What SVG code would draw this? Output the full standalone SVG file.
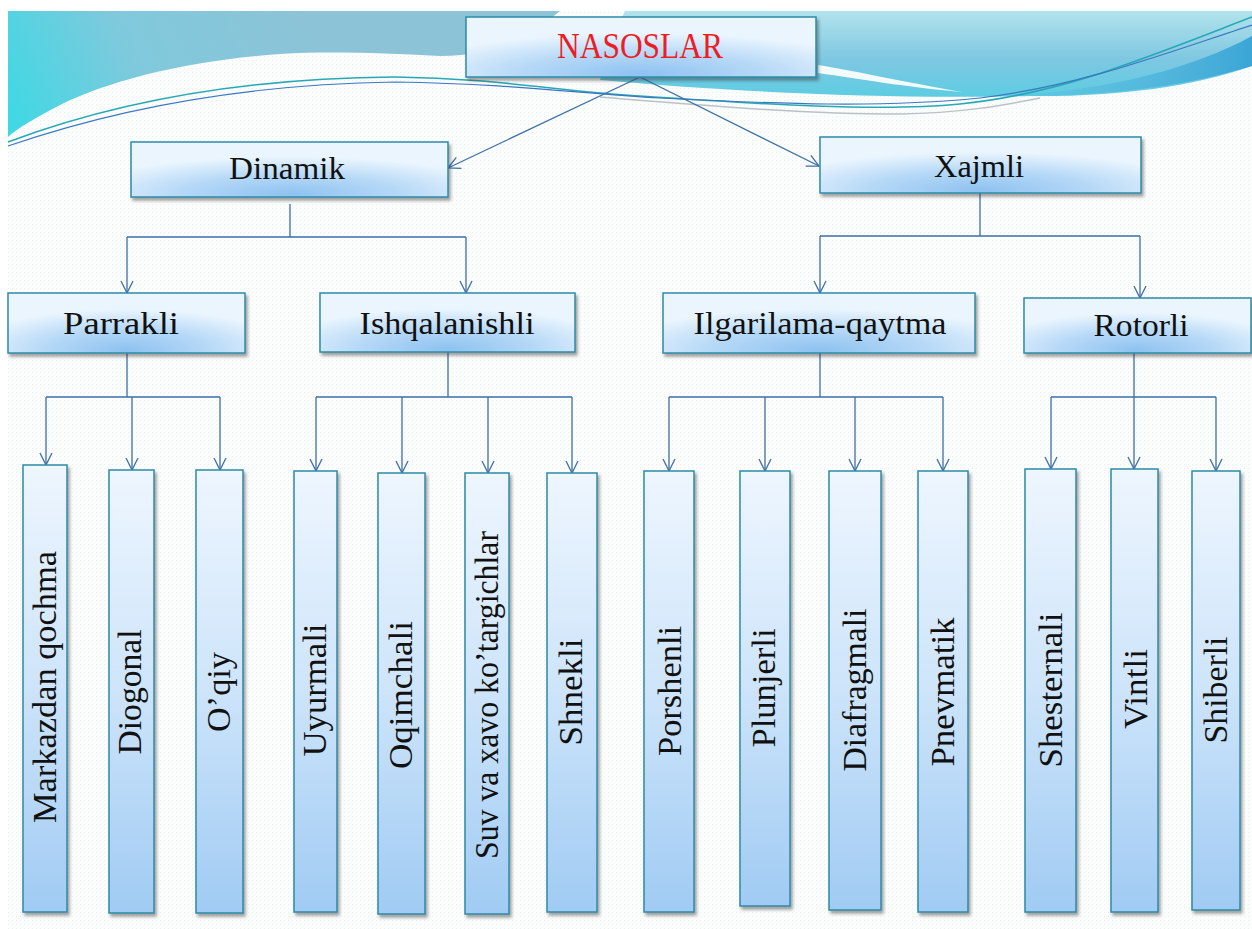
<svg xmlns="http://www.w3.org/2000/svg" width="1252" height="929" viewBox="0 0 1252 929">
<defs>
  <style>
    .hb { fill: url(#gH); stroke: #2e8aa6; stroke-width: 1.5; filter: url(#sh); }
    .vb { fill: url(#gV); stroke: #2e8aa6; stroke-width: 1.5; filter: url(#sh); }
    .t { font-family: "Liberation Serif", "Times New Roman", serif; fill: #111; text-anchor: middle; }
    .h1 { font-size: 32px; }
    .h2 { font-size: 32px; }
    .vt { font-size: 33px; }
    .top { font-size: 35px; fill: #ee1c25; }
    .c { fill: none; stroke: #3d6fa6; stroke-width: 1.3; }
    .ca { fill: none; stroke: #3d6fa6; stroke-width: 1.3; marker-end: url(#ah); }
  </style>
  <marker id="ah" viewBox="0 0 14 14" refX="13" refY="7" markerWidth="14" markerHeight="14" markerUnits="userSpaceOnUse" orient="auto">
    <path d="M1,1 L13,7 L1,13" fill="none" stroke="#3d6fa6" stroke-width="1.3"/>
  </marker>
  <filter id="sh" x="-10%" y="-10%" width="130%" height="130%">
    <feDropShadow dx="2" dy="3" stdDeviation="1.6" flood-color="#333" flood-opacity="0.45"/>
  </filter>
  <radialGradient id="gH" cx="0.5" cy="0.95" r="0.68">
    <stop offset="0" stop-color="#8ec2f1"/>
    <stop offset="0.5" stop-color="#b5d8f7"/>
    <stop offset="1" stop-color="#eaf5fe"/>
  </radialGradient>
  <linearGradient id="gV" x1="0" y1="0" x2="0" y2="1">
    <stop offset="0" stop-color="#eef6fe"/>
    <stop offset="0.5" stop-color="#cde4fa"/>
    <stop offset="1" stop-color="#a0cbf3"/>
  </linearGradient>
  <linearGradient id="gLeft" x1="300" y1="11" x2="20" y2="140" gradientUnits="userSpaceOnUse">
    <stop offset="0" stop-color="#8cc3d7"/>
    <stop offset="0.55" stop-color="#80c9dc"/>
    <stop offset="1" stop-color="#3fd8e4"/>
  </linearGradient>
  <linearGradient id="gRight" x1="0" y1="11" x2="0" y2="98" gradientUnits="userSpaceOnUse">
    <stop offset="0" stop-color="#b2e3ec"/>
    <stop offset="0.55" stop-color="#7fc7e2"/>
    <stop offset="1" stop-color="#5ccde2"/>
  </linearGradient>
  <linearGradient id="gDark" x1="1000" y1="0" x2="1252" y2="0" gradientUnits="userSpaceOnUse">
    <stop offset="0" stop-color="#5bbde0" stop-opacity="0.2"/>
    <stop offset="1" stop-color="#3aa6d6"/>
  </linearGradient>
  <pattern id="dots" width="4" height="4" patternUnits="userSpaceOnUse">
    <rect width="4" height="4" fill="#fbfcfc"/>
    <rect width="1" height="1" fill="#eceff0"/>
  </pattern>
</defs>

<!-- background -->
<rect x="0" y="0" width="1252" height="929" fill="#ffffff"/>
<rect x="8" y="11" width="1244" height="918" fill="url(#dots)"/>
<path d="M8,11 L560,11 C530,35 500,56 440,56 C380,53 330,51 280,54 C190,60 110,80 60,105 C35,118 18,128 8,137 Z" fill="url(#gLeft)"/>
<path d="M625,11 L1252,11 L1252,66 C1190,88 1110,97 1030,96 C900,99 760,94 600,80 C610,50 615,30 625,11 Z" fill="url(#gRight)"/>
<path d="M1000,96 C1100,92 1190,70 1252,36 L1252,66 C1180,88 1100,97 1000,96 Z" fill="url(#gDark)"/>
<path d="M818,65 C860,72 905,82 962,92 C905,87 860,79 818,73 Z" fill="#f4fbfc"/>
<path d="M8,142 C120,100 250,78 395,77 C500,78 560,92 640,96 C760,104 880,112 960,104 C1060,94 1140,60 1252,17" fill="none" stroke="#27a9b5" stroke-width="1.6"/>
<path d="M8,146 C130,104 260,84 395,82 C520,84 580,94 660,98 C780,104 880,108 980,98 C1080,86 1160,55 1252,25" fill="none" stroke="#3b78c2" stroke-width="1.2"/>
<path d="M600,97 C700,105 800,114 900,114 C960,113 1000,106 1040,98" fill="none" stroke="#b9c2c6" stroke-width="1.5"/>

<!-- connectors -->
<g id="connectors">
  <path class="ca" d="M640,77 L448,168"/>
  <path class="ca" d="M640,77 L819,166"/>
  <path class="c" d="M290,204 V237 M127,237 H466"/>
  <path class="ca" d="M127,237 V293"/>
  <path class="ca" d="M466,237 V293"/>
  <path class="c" d="M980,193 V236 M820,236 H1140"/>
  <path class="ca" d="M820,236 V293"/>
  <path class="ca" d="M1140,236 V298"/>
  <path class="c" d="M127,353 V397 M46,397 H220"/>
  <path class="ca" d="M46,397 V465"/>
  <path class="ca" d="M132,397 V470"/>
  <path class="ca" d="M220,397 V470"/>
  <path class="c" d="M448,352 V397 M316,397 H572"/>
  <path class="ca" d="M316,397 V471"/>
  <path class="ca" d="M402,397 V473"/>
  <path class="ca" d="M488,397 V473"/>
  <path class="ca" d="M572,397 V473"/>
  <path class="c" d="M820,353 V397 M669,397 H943"/>
  <path class="ca" d="M669,397 V471"/>
  <path class="ca" d="M765,397 V471"/>
  <path class="ca" d="M855,397 V471"/>
  <path class="ca" d="M943,397 V471"/>
  <path class="c" d="M1134,353 V397 M1051,397 H1216"/>
  <path class="ca" d="M1051,397 V469"/>
  <path class="ca" d="M1134,397 V469"/>
  <path class="ca" d="M1216,397 V471"/>
</g>

<!-- nodes -->
<g id="n-nasoslar"><rect class="hb" x="466" y="17" width="350" height="60"/><text class="t top" x="640" y="58" textLength="166" lengthAdjust="spacingAndGlyphs">NASOSLAR</text></g>
<g id="n-dinamik"><rect class="hb" x="131" y="142" width="317" height="55"/><text class="t h1" x="287" y="179" textLength="116" lengthAdjust="spacingAndGlyphs">Dinamik</text></g>
<g id="n-xajmli"><rect class="hb" x="820" y="137" width="321" height="56"/><text class="t h1" x="979" y="177" textLength="90" lengthAdjust="spacingAndGlyphs">Xajmli</text></g>
<g id="n-parrakli"><rect class="hb" x="8" y="293" width="237" height="60"/><text class="t h2" x="121" y="334" textLength="116" lengthAdjust="spacingAndGlyphs">Parrakli</text></g>
<g id="n-ishqalanishli"><rect class="hb" x="320" y="293" width="255" height="59"/><text class="t h2" x="447" y="334" textLength="175" lengthAdjust="spacingAndGlyphs">Ishqalanishli</text></g>
<g id="n-ilgarilama"><rect class="hb" x="663" y="293" width="312" height="60"/><text class="t h2" x="820" y="334" textLength="253" lengthAdjust="spacingAndGlyphs">Ilgarilama-qaytma</text></g>
<g id="n-rotorli"><rect class="hb" x="1024" y="298" width="227" height="55"/><text class="t h2" x="1141" y="336" textLength="95" lengthAdjust="spacingAndGlyphs">Rotorli</text></g>

<g id="n-markazdan"><rect class="vb" x="23" y="465" width="44" height="447"/><text class="t vt" transform="translate(56,687) rotate(-90)" textLength="272" lengthAdjust="spacingAndGlyphs">Markazdan qochma</text></g>
<g id="n-diogonal"><rect class="vb" x="109" y="470" width="45" height="443"/><text class="t vt" transform="translate(141,692) rotate(-90)" textLength="125" lengthAdjust="spacingAndGlyphs">Diogonal</text></g>
<g id="n-oqiy"><rect class="vb" x="196" y="470" width="47" height="443"/><text class="t vt" transform="translate(230,692) rotate(-90)" textLength="80" lengthAdjust="spacingAndGlyphs">O’qiy</text></g>
<g id="n-uyurmali"><rect class="vb" x="294" y="471" width="43" height="441"/><text class="t vt" transform="translate(326,690) rotate(-90)" textLength="133" lengthAdjust="spacingAndGlyphs">Uyurmali</text></g>
<g id="n-oqimchali"><rect class="vb" x="378" y="473" width="47" height="441"/><text class="t vt" transform="translate(412,695) rotate(-90)" textLength="148" lengthAdjust="spacingAndGlyphs">Oqimchali</text></g>
<g id="n-suv"><rect class="vb" x="465" y="473" width="44" height="441"/><text class="t vt" transform="translate(498,695) rotate(-90)" textLength="328" lengthAdjust="spacingAndGlyphs">Suv va xavo ko’targichlar</text></g>
<g id="n-shnekli"><rect class="vb" x="547" y="473" width="50" height="439"/><text class="t vt" transform="translate(582,692) rotate(-90)" textLength="107" lengthAdjust="spacingAndGlyphs">Shnekli</text></g>
<g id="n-porshenli"><rect class="vb" x="644" y="471" width="50" height="441"/><text class="t vt" transform="translate(681,691) rotate(-90)" textLength="130" lengthAdjust="spacingAndGlyphs">Porshenli</text></g>
<g id="n-plunjerli"><rect class="vb" x="740" y="471" width="50" height="435"/><text class="t vt" transform="translate(775,688) rotate(-90)" textLength="119" lengthAdjust="spacingAndGlyphs">Plunjerli</text></g>
<g id="n-diafragmali"><rect class="vb" x="829" y="471" width="52" height="439"/><text class="t vt" transform="translate(866,690) rotate(-90)" textLength="163" lengthAdjust="spacingAndGlyphs">Diafragmali</text></g>
<g id="n-pnevmatik"><rect class="vb" x="918" y="471" width="50" height="441"/><text class="t vt" transform="translate(954,692) rotate(-90)" textLength="149" lengthAdjust="spacingAndGlyphs">Pnevmatik</text></g>
<g id="n-shesternali"><rect class="vb" x="1025" y="469" width="51" height="443"/><text class="t vt" transform="translate(1062,690) rotate(-90)" textLength="155" lengthAdjust="spacingAndGlyphs">Shesternali</text></g>
<g id="n-vintli"><rect class="vb" x="1111" y="469" width="47" height="443"/><text class="t vt" transform="translate(1147,689) rotate(-90)" textLength="80" lengthAdjust="spacingAndGlyphs">Vintli</text></g>
<g id="n-shiberli"><rect class="vb" x="1192" y="471" width="48" height="439"/><text class="t vt" transform="translate(1227,690) rotate(-90)" textLength="107" lengthAdjust="spacingAndGlyphs">Shiberli</text></g>
</svg>
